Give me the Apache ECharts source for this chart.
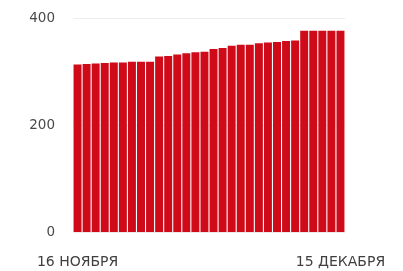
<!DOCTYPE html>
<html>
<head>
<meta charset="utf-8">
<script src="https://cdn.jsdelivr.net/npm/echarts@6/dist/echarts.min.js"></script>
<style>
    html, body { margin: 0; padding: 0; background: #fff; }
    #chart { width: 403px; height: 271px; }
</style>
</head>
<body>
<div id="chart"></div>
<script>
// дни
var days = ['16 НОЯБРЯ', '17 НОЯБРЯ', '18 НОЯБРЯ', '19 НОЯБРЯ', '20 НОЯБРЯ', '21 НОЯБРЯ',
    '22 НОЯБРЯ', '23 НОЯБРЯ', '24 НОЯБРЯ', '25 НОЯБРЯ', '26 НОЯБРЯ', '27 НОЯБРЯ',
    '28 НОЯБРЯ', '29 НОЯБРЯ', '30 НОЯБРЯ', '1 ДЕКАБРЯ', '2 ДЕКАБРЯ', '3 ДЕКАБРЯ',
    '4 ДЕКАБРЯ', '5 ДЕКАБРЯ', '6 ДЕКАБРЯ', '7 ДЕКАБРЯ', '8 ДЕКАБРЯ', '9 ДЕКАБРЯ',
    '10 ДЕКАБРЯ', '11 ДЕКАБРЯ', '12 ДЕКАБРЯ', '13 ДЕКАБРЯ', '14 ДЕКАБРЯ', '15 ДЕКАБРЯ'];
var values = [313, 314, 315, 316, 317, 317, 318, 318, 318, 328, 329, 332, 334, 336, 337,
    342, 344, 348, 350, 350, 353, 354, 355, 357, 358, 376, 376, 376, 376, 376];
var yTicks = [0, 200, 400];

(function () {
    var myChart = echarts.init(document.getElementById('chart'));
    var option = {
        animation: false,
        grid: {
            left: 73,
            right: 58,
            top: 18,
            bottom: 39
        },
        xAxis: {
            type: 'category',
            data: days,
            axisLine: { show: false },
            axisTick: { show: false },
            axisLabel: {
                interval: function (i) { return i === 0 || i === days.length - 1; },
                margin: 23,
                color: '#404040',
                fontSize: 14,
                fontFamily: 'DejaVu Sans'
            }
        },
        yAxis: {
            type: 'value',
            min: yTicks[0],
            max: yTicks[yTicks.length - 1],
            interval: 200,
            axisLine: { show: false },
            axisTick: { show: false },
            splitLine: {
                lineStyle: { color: '#ededed' }
            },
            axisLabel: {
                margin: 18,
                color: '#4a4a4a',
                fontSize: 13.5,
                fontFamily: 'DejaVu Sans'
            }
        },
        series: [
            {
                type: 'bar',
                data: values,
                barCategoryGap: '12%',
                itemStyle: { color: '#cf0a19' }
            }
        ]
    };
    myChart.setOption(option);
})();
</script>
</body>
</html>
